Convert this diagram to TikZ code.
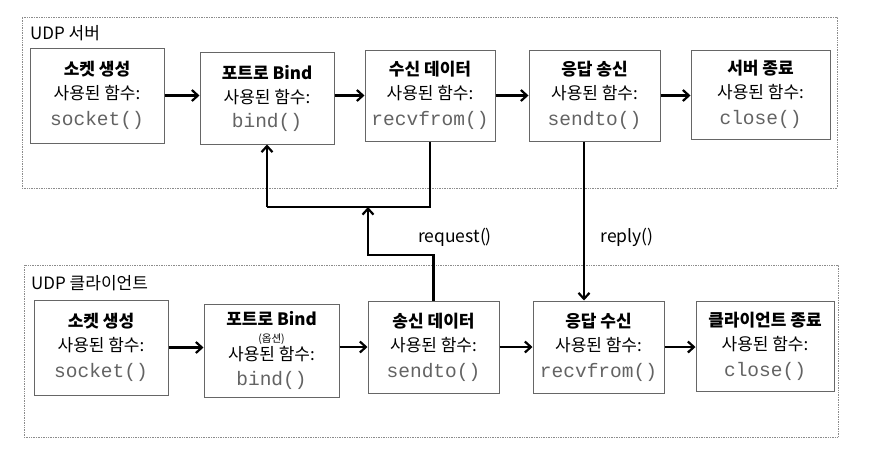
\documentclass[tikz,border=0pt]{standalone}
\usepackage{fontspec}
\setmainfont{Noto Sans CJK KR}
\setmonofont{Liberation Mono}
\usetikzlibrary{arrows.meta,shadows,calc}
\definecolor{fngray}{HTML}{636363}
\definecolor{boxgray}{HTML}{666666}
\newcommand{\fn}[1]{{\ttfamily\fontsize{19.5}{24}\selectfont\color{fngray}#1}}
\newcommand{\opt}[1]{{\fontsize{10.5}{11}\selectfont #1}}
\begin{document}
\begin{tikzpicture}[x=1pt,y=-1pt,
  container/.style={draw=black!45, densely dotted, line width=0.7pt, inner sep=0pt},
  grouplabel/.style={anchor=west, inner sep=0pt, font=\fontsize{17}{20}\selectfont},
  stepbox/.style={draw=boxgray, line width=1pt, fill=white, inner sep=0pt,
    align=center, font=\fontsize{17}{24}\selectfont,
    drop shadow={shadow xshift=1.2pt, shadow yshift=-1.2pt, opacity=0.25}},
  flow/.style={line width=2.2pt, -{Straight Barb[length=6pt,width=11pt]}},
  link/.style={line width=2.2pt},
  msg/.style={inner sep=0pt, font=\fontsize{17.5}{20}\selectfont}]
\useasboundingbox (0,0) rectangle (869,459);
% containers
\node[container, minimum width=815, minimum height=171] (srv) at (429.5,102.5) {};
\node[container, minimum width=814, minimum height=172] (cli) at (431,351) {};
\node[grouplabel] (srvl) at (30,33) {UDP 서버};
\node[grouplabel] (clil) at (31,283) {UDP 클라이언트};
% server boxes
\node[stepbox, minimum width=134, minimum height=95] (S1) at (97,95.5)
  {\textbf{소켓 생성}\\사용된 함수:\\[2pt]\fn{socket()}};
\node[stepbox, minimum width=134, minimum height=92] (S2) at (267,98)
  {\textbf{포트로 Bind}\\사용된 함수:\\[0pt]\fn{bind()}};
\node[stepbox, minimum width=130, minimum height=91] (S3) at (430,95.5)
  {\textbf{수신 데이터}\\사용된 함수:\\[2pt]\fn{recvfrom()}};
\node[stepbox, minimum width=131, minimum height=91] (S4) at (594.5,95.5)
  {\textbf{응답 송신}\\사용된 함수:\\[2pt]\fn{sendto()}};
\node[stepbox, minimum width=139, minimum height=89] (S5) at (760.5,94.5)
  {\textbf{서버 종료}\\사용된 함수:\\[2pt]\fn{close()}};
% client boxes
\node[stepbox, minimum width=134, minimum height=95] (C1) at (101,347.5)
  {\textbf{소켓 생성}\\사용된 함수:\\[2pt]\fn{socket()}};
\node[stepbox, minimum width=135, minimum height=93] (C2) at (271.5,350.5)
  {\textbf{포트로 Bind}\\[-7pt]\opt{(옵션)}\\[-6pt]사용된 함수:\\[1pt]\fn{bind()}};
\node[stepbox, minimum width=131, minimum height=92] (C3) at (433.5,347)
  {\textbf{송신 데이터}\\사용된 함수:\\[2pt]\fn{sendto()}};
\node[stepbox, minimum width=131, minimum height=92] (C4) at (598.5,347)
  {\textbf{응답 수신}\\사용된 함수:\\[2pt]\fn{recvfrom()}};
\node[stepbox, minimum width=138, minimum height=90] (C5) at (765,346)
  {\textbf{클라이언트 종료}\\사용된 함수:\\[2pt]\fn{close()}};
% server flow
\draw[flow] (S1.east) -- (S1.east -| S2.west);
\draw[flow] (S3.west -| S2.east) -- (S3.west);
\draw[flow] (S3.east) -- (S3.east -| S4.west);
\draw[flow] (S4.east) -- (S4.east -| S5.west);
% client flow
\draw[flow] (C1.east) -- (C1.east -| C2.west);
\draw[flow] (C3.west -| C2.east) -- (C3.west);
\draw[flow] (C3.east) -- (C3.east -| C4.west);
\draw[flow] (C4.east) -- (C4.east -| C5.west);
% request path
\coordinate (qy) at (0,207);
\coordinate (qm) at (368,255);
\draw[link] (S3.south) -- (S3.south |- qy) -- (S2.south |- qy);
\draw[flow] (S2.south |- qy) -- (S2.south);
\draw[flow] (C3.north) -- (C3.north |- qm) -- (qm) -- (qm |- qy);
% reply path
\coordinate (rx) at (584,0);
\draw[flow] (S4.south -| rx) -- (C4.north -| rx);
\node[msg] (req) at (455,237) {request()};
\node[msg] (rep) at (627,237) {reply()};
\end{tikzpicture}
\end{document}
